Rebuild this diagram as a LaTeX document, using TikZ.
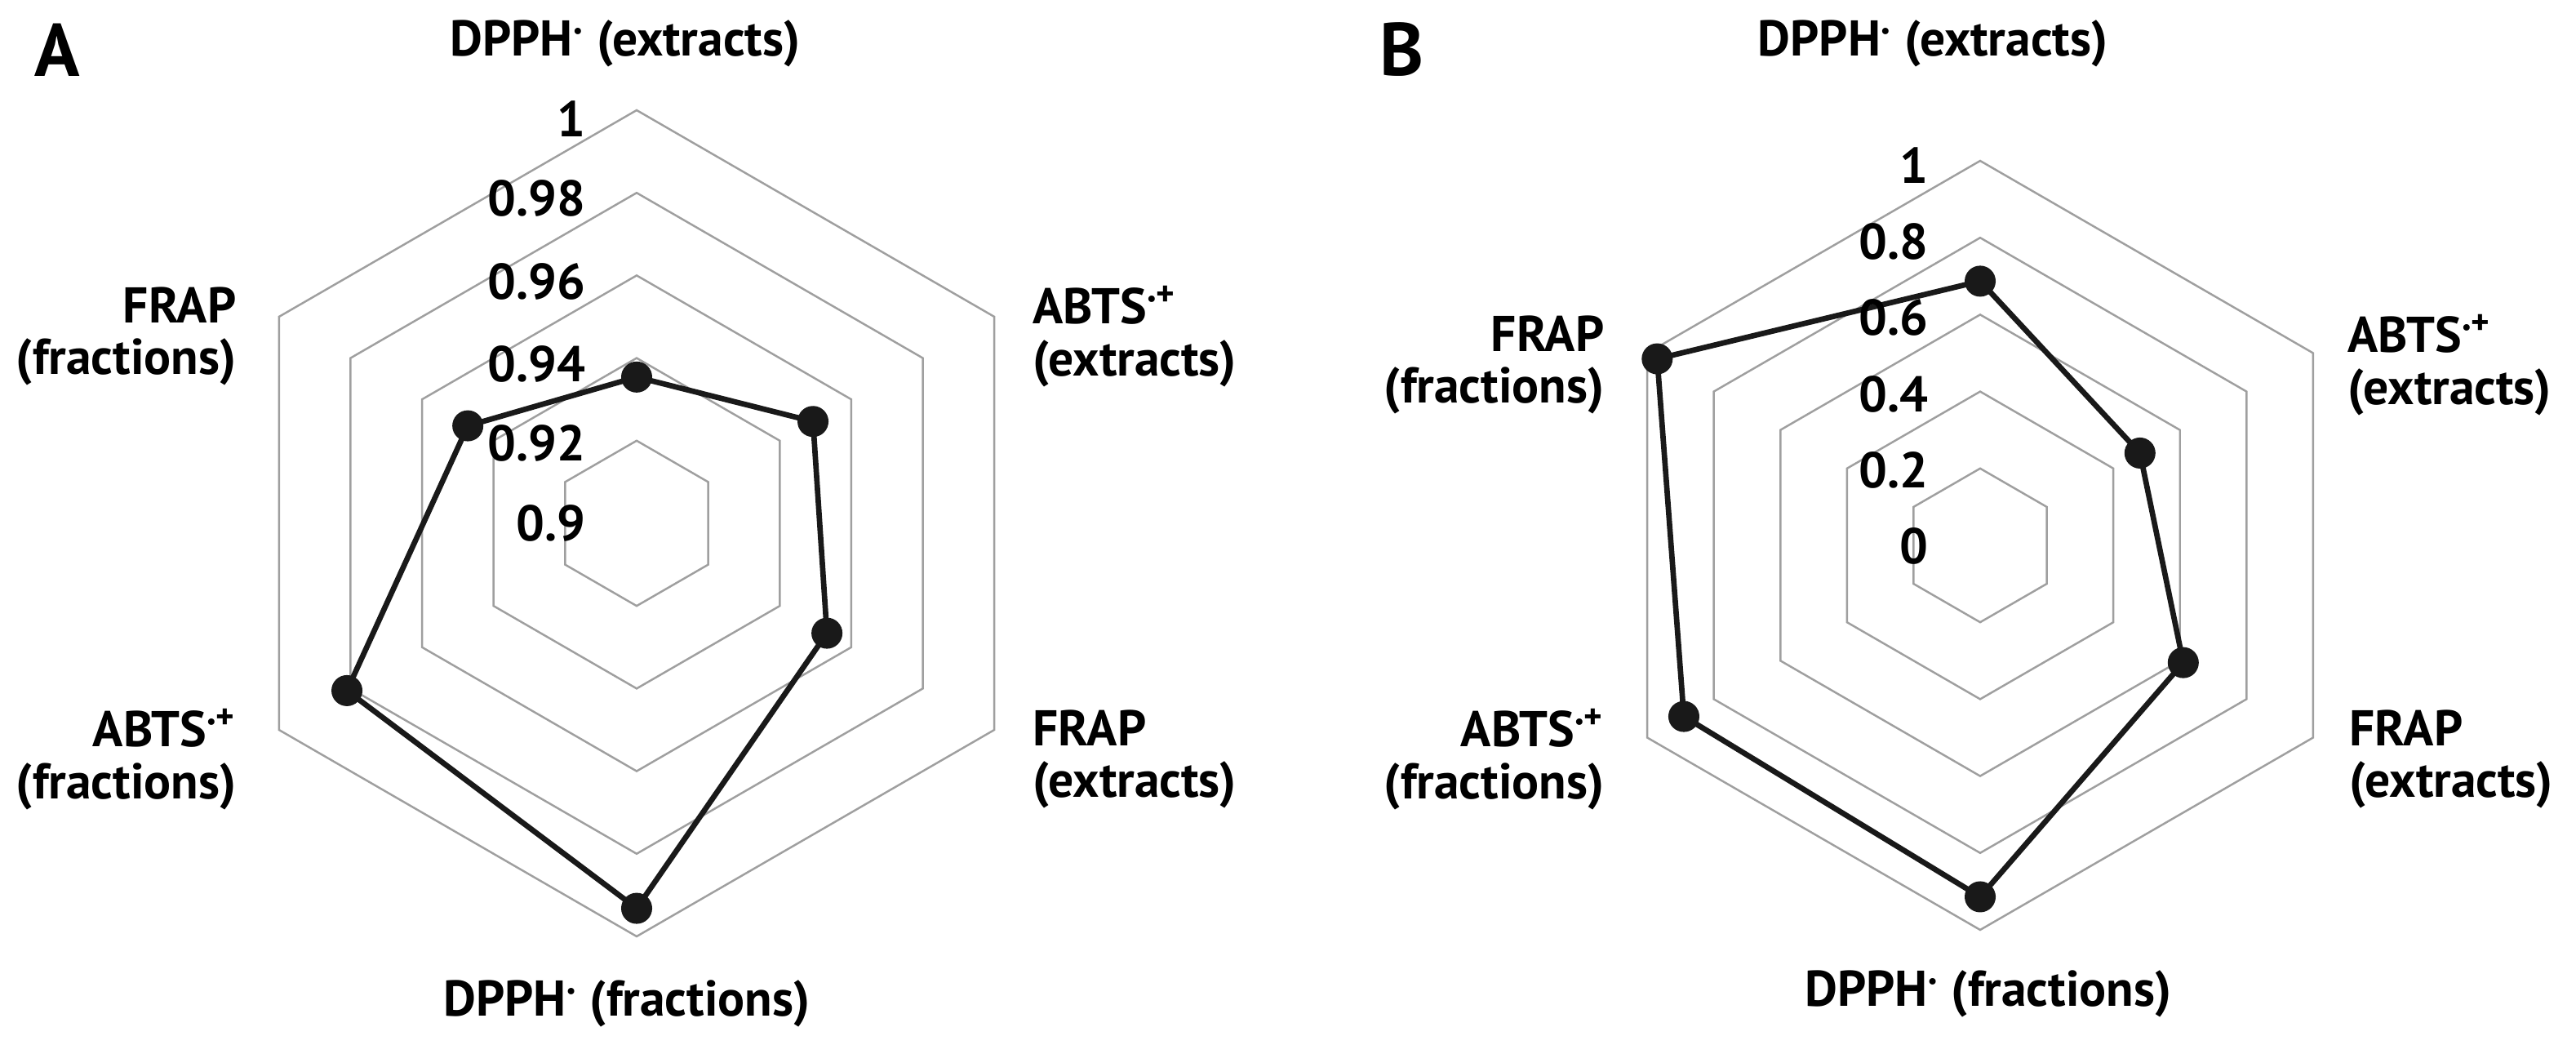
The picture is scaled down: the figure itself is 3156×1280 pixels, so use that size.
\documentclass[tikz,border=0pt]{standalone}
\usepackage{fontspec}
\setmainfont{PT Sans}
\newcommand\supdot{\textsuperscript{\scalebox{0.6}{\textbullet}}}
\newcommand\supdp{\textsuperscript{\scalebox{0.6}{\textbullet}+}}
\begin{document}
\begin{tikzpicture}[x=0.01cm,y=-0.01cm,
  grid/.style={draw=gray!75,line width=0.7pt},
  data/.style={draw=black!90,line width=1.9pt,line join=round},
  dot/.style={circle,fill=black!90,inner sep=0pt,minimum size=0.38cm},
  lab/.style={font=\fontsize{17.5}{18}\selectfont\bfseries,align=center,inner sep=0pt},
  tick/.style={font=\fontsize{17.5}{19}\selectfont\bfseries,anchor=east,inner sep=0pt},
  panel/.style={font=\fontsize{26}{30}\selectfont\bfseries,inner sep=0pt}]
\useasboundingbox (0,0) rectangle (3156,1280);
% ---------- A ----------
\begin{scope}[shift={(780,641)},yscale=-1]
  \foreach \k in {1,...,5}{
    \draw[grid] (90:{\k*101.2}) -- (30:{\k*101.2}) -- (-30:{\k*101.2}) -- (-90:{\k*101.2}) -- (-150:{\k*101.2}) -- (150:{\k*101.2}) -- cycle;}
  \node[dot] (a1) at (90:{0.354*506}) {};
  \node[dot] (a2) at (30:{0.493*506}) {};
  \node[dot] (a3) at (-30:{0.532*506}) {};
  \node[dot] (a4) at (-90:{0.932*506}) {};
  \node[dot] (a5) at (-150:{0.81*506}) {};
  \node[dot] (a6) at (150:{0.472*506}) {};
\end{scope}
\draw[data] (a1.center) -- (a2.center) -- (a3.center) -- (a4.center) -- (a5.center) -- (a6.center) -- cycle;
\node[tick] (ta1) at (718,146) {1};
\node[tick] (ta2) at (718,243) {0.98};
\node[tick] (ta3) at (718,345) {0.96};
\node[tick] (ta4) at (718,446) {0.94};
\node[tick] (ta5) at (718,543) {0.92};
\node[tick] (ta6) at (718,641) {0.9};
\node[panel] (pa) at (70,61) {A};
\node[lab] (la1) at (766,53) {DPPH\supdot{} (extracts)};
\node[lab,anchor=west,align=left] (la2) at (1265,412) {ABTS\supdp\\(extracts)};
\node[lab,anchor=west,align=left] (la3) at (1265,930) {FRAP\\(extracts)};
\node[lab] (la4) at (768,1229) {DPPH\supdot{} (fractions)};
\node[lab,anchor=east,align=right] (la5) at (290,930) {ABTS\supdp\\(fractions)};
\node[lab,anchor=east,align=right] (la6) at (290,412) {FRAP\\(fractions)};
% ---------- B ----------
\begin{scope}[shift={(2426,668)},yscale=-1]
  \foreach \k in {1,...,5}{
    \draw[grid] (90:{\k*94.2}) -- (30:{\k*94.2}) -- (-30:{\k*94.2}) -- (-90:{\k*94.2}) -- (-150:{\k*94.2}) -- (150:{\k*94.2}) -- cycle;}
  \node[dot] (b1) at (90:{0.687*471}) {};
  \node[dot] (b2) at (30:{0.48*471}) {};
  \node[dot] (b3) at (-30:{0.61*471}) {};
  \node[dot] (b4) at (-90:{0.914*471}) {};
  \node[dot] (b5) at (-150:{0.89*471}) {};
  \node[dot] (b6) at (150:{0.97*471}) {};
\end{scope}
\draw[data] (b1.center) -- (b2.center) -- (b3.center) -- (b4.center) -- (b5.center) -- (b6.center) -- cycle;
\node[tick] (tb1) at (2363,203) {1};
\node[tick] (tb2) at (2363,296) {0.8};
\node[tick] (tb3) at (2363,389) {0.6};
\node[tick] (tb4) at (2363,483) {0.4};
\node[tick] (tb5) at (2363,576) {0.2};
\node[tick] (tb6) at (2363,669) {0};
\node[panel] (pb) at (1718,61) {B};
\node[lab] (lb1) at (2368,53) {DPPH\supdot{} (extracts)};
\node[lab,anchor=west,align=left] (lb2) at (2876,447) {ABTS\supdp\\(extracts)};
\node[lab,anchor=west,align=left] (lb3) at (2878,930) {FRAP\\(extracts)};
\node[lab] (lb4) at (2436,1217) {DPPH\supdot{} (fractions)};
\node[lab,anchor=east,align=right] (lb5) at (1966,930) {ABTS\supdp\\(fractions)};
\node[lab,anchor=east,align=right] (lb6) at (1966,447) {FRAP\\(fractions)};
\end{tikzpicture}
\end{document}
